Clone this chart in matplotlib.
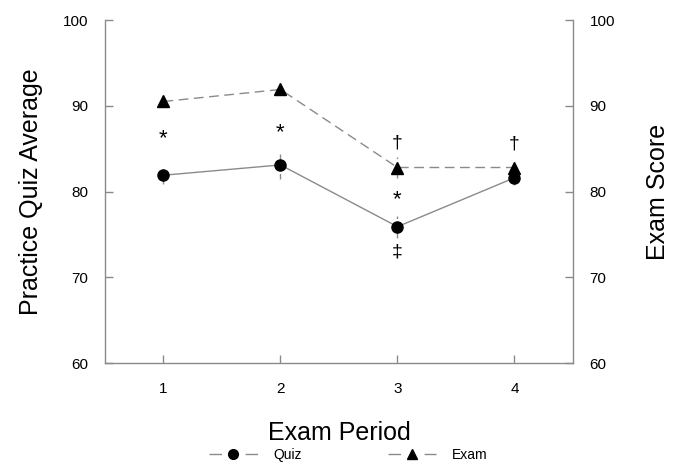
import numpy as np
import matplotlib
matplotlib.use("Agg")
import matplotlib.pyplot as plt
from matplotlib.lines import Line2D

plt.rcParams['font.family'] = ['Liberation Sans', 'DejaVu Sans']

# data
periods = [1, 2, 3, 4]
quiz = [81.9, 83.1, 75.9, 81.6]
quiz_err = [1.0, 1.6, 1.3, 0.8]
exam = [90.5, 91.9, 82.8, 82.8]
exam_err = [0.6, 0.6, 1.2, 0.6]

# significance marks (x, y, symbol)
mark_x = [1, 2, 3, 3, 3, 4]
mark_y = [86.2, 86.9, 85.6, 79.1, 72.9, 85.5]
mark_txt = ['*', '*', '\u2020', '*', '\u2021', '\u2020']

grey = '#8a8a8a'

fig = plt.figure(figsize=(6.76, 4.72), dpi=100)
ax = fig.add_axes([0.1553, 0.2309, 0.6923, 0.7267])
ax2 = ax.twinx()

# quiz series
eb = ax.errorbar(periods, quiz, yerr=quiz_err, color=grey, lw=1, ecolor=grey,
                 elinewidth=1, capsize=0, marker='o', ms=8, mfc='black',
                 mec='black', zorder=3)
eb[2][0].set_linestyle((0, (4, 3)))

# exam series
eb2 = ax2.errorbar(periods, exam, yerr=exam_err, color=grey, lw=1, ecolor=grey,
                   elinewidth=1, capsize=0, marker='^', ms=8, mfc='black',
                   mec='black', zorder=3)
eb2[0].set_linestyle((0, (7, 4)))
eb2[2][0].set_linestyle((0, (4, 3)))

for x, y, t in zip(mark_x, mark_y, mark_txt):
    fs = 16 if t == '*' else 14
    ax.text(x, y, t, ha='center', va='center', fontsize=fs, color='black')

for a in (ax, ax2):
    a.set_xlim(0.5, 4.5)
    a.set_ylim(60, 100)
    a.set_yticks([60, 70, 80, 90, 100])
    a.spines['top'].set_visible(False)
    for s in a.spines.values():
        s.set_color(grey)
        s.set_linewidth(1)
    a.tick_params(direction='in', length=6, width=1, color=grey,
                  labelsize=11, pad=12)

ax.spines['right'].set_visible(False)
ax2.spines['left'].set_visible(False)
ax2.spines['bottom'].set_visible(False)
ax.set_xticks(periods)
ax.tick_params(axis='x', pad=14)

ax.set_xlabel('Exam Period', fontsize=18, labelpad=18)
ax.set_ylabel('Practice Quiz Average', fontsize=18, labelpad=14)
ax2.set_ylabel('Exam Score', fontsize=18, labelpad=22)

handles = [
    Line2D([], [], color=grey, lw=1, ls=(0, (9, 17)), marker='o', ms=7,
           mfc='black', mec='black'),
    Line2D([], [], color=grey, lw=1, ls=(0, (9, 17)), marker='^', ms=7,
           mfc='black', mec='black'),
]
fig.legend(handles, ['Quiz', 'Exam'], loc='lower center',
           bbox_to_anchor=(0.515, -0.005), ncol=2, frameon=False, fontsize=10,
           handlelength=3.5, columnspacing=6.2, handletextpad=1.1)

fig.savefig('out.png', dpi=100)
